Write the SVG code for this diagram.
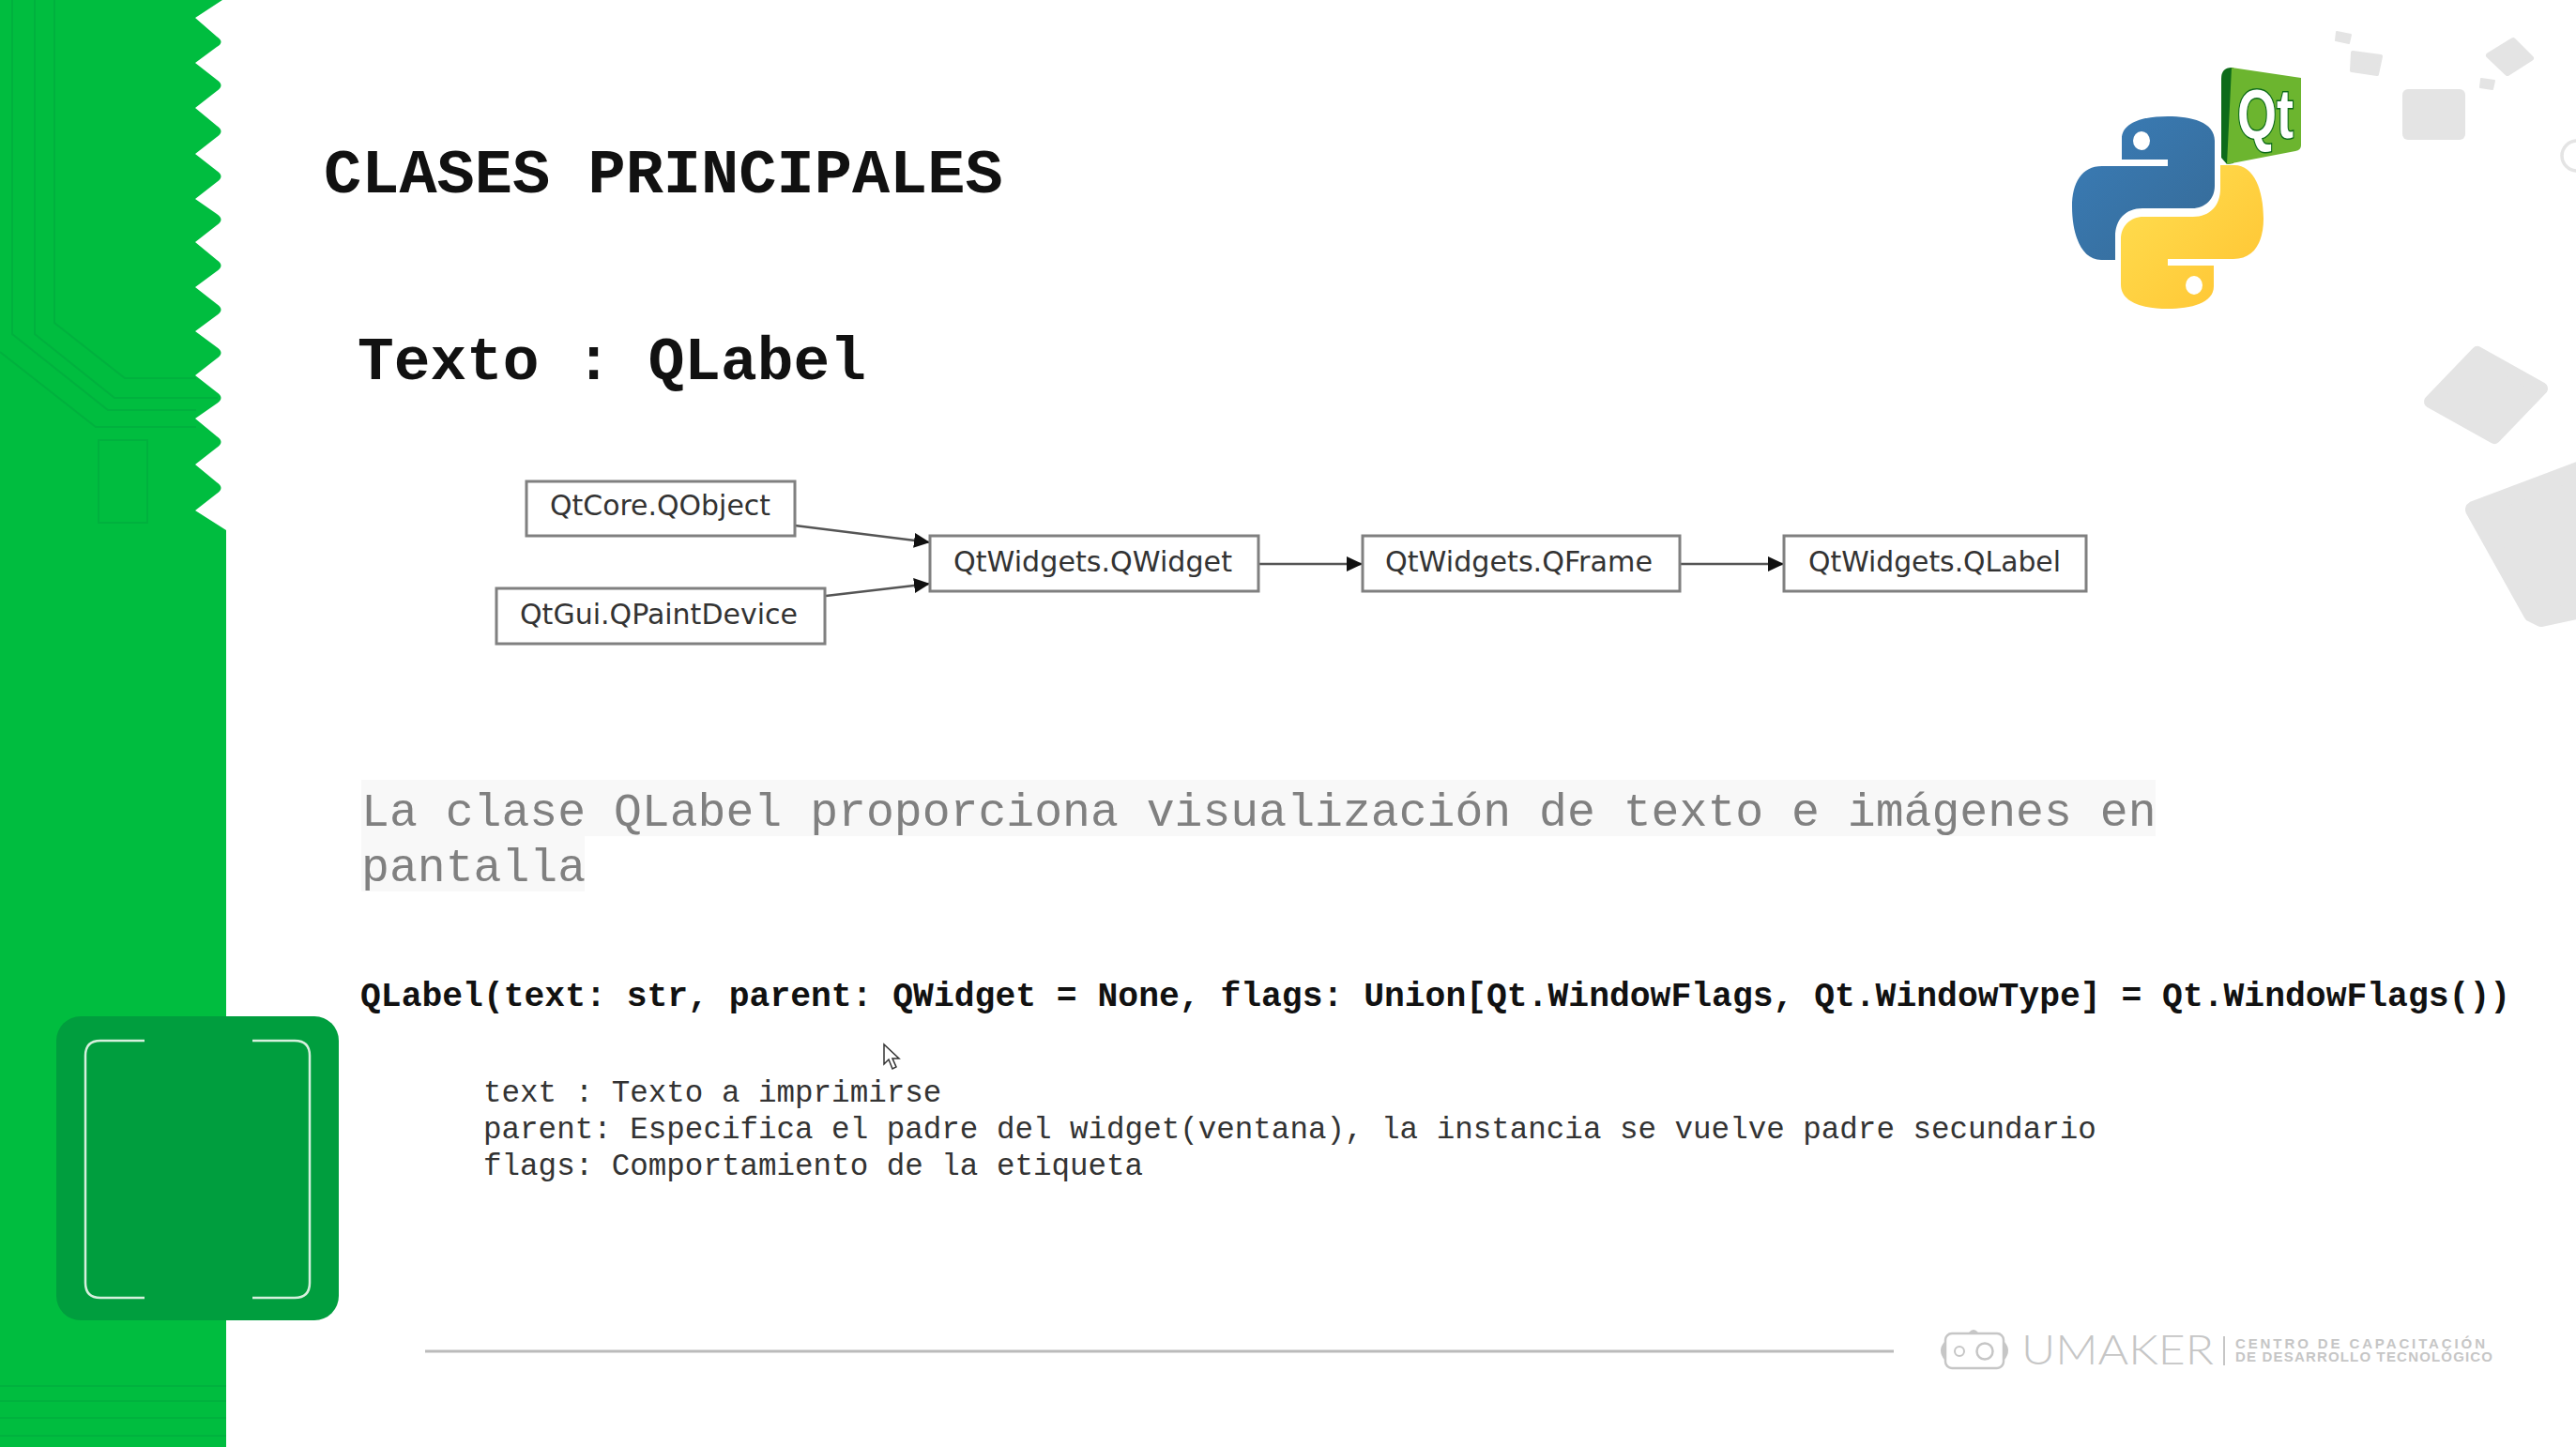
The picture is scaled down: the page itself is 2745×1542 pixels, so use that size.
<svg xmlns="http://www.w3.org/2000/svg" width="2745" height="1542" viewBox="0 0 2745 1542">
<style>
.mono{font-family:"Liberation Mono","DejaVu Sans Mono",monospace}
.b{font-weight:700;fill:#111}
.node rect{fill:#fff;stroke:#808080;stroke-width:3}
.node text{font-family:"DejaVu Sans",sans-serif;font-size:31px;fill:#333}
.edge{stroke:#555;stroke-width:2.5;fill:none;marker-end:url(#arrow)}
.tr{fill:none;stroke:#00b13e;stroke-width:2}
.gr{fill:#e4e4e4;stroke:#e4e4e4;stroke-linejoin:round}
.det{font-size:32.55px;fill:#333}
.umk{fill:#c6c6c6}
</style>
<defs>
<marker id="arrow" markerUnits="userSpaceOnUse" markerWidth="18" markerHeight="16" refX="17" refY="8" orient="auto"><path d="M0 0L17 8L0 16Z" fill="#111"/></marker>
<linearGradient id="bl" x1="0" y1="0" x2="1" y2="1"><stop offset="0" stop-color="#3a7db8"/><stop offset="1" stop-color="#366a96"/></linearGradient>
<linearGradient id="yl" x1="0" y1="0" x2="1" y2="1"><stop offset="0" stop-color="#ffc331"/><stop offset="1" stop-color="#ffe052"/></linearGradient>
</defs>
<rect width="2745" height="1542" fill="#fff"/>

<g id="decor-grey">
<path class="gr" stroke-width="2" d="M2490 34L2505 37L2503 46L2489 43Z"/>
<path class="gr" stroke-width="4" d="M2507 56L2537 60L2533 79L2506 75Z"/>
<path class="gr" stroke-width="6" d="M2652 59L2678 43L2697 62L2672 78Z"/>
<path class="gr" stroke-width="2" d="M2644 84L2658 86L2656 95L2643 93Z"/>
<rect x="2560" y="95" width="67" height="54" rx="6" fill="#e4e4e4"/>
<circle cx="2746" cy="166" r="16" fill="none" stroke="#e4e4e4" stroke-width="3.5"/>
<path class="gr" stroke-width="14" d="M2640 376L2708 414L2658 466L2590 428Z"/>
<path class="gr" stroke-width="18" d="M2636 543L2750 500L2750 650L2708 659L2698 654Z"/>
</g>

<g id="sidebar">
<path fill="#00bd3f" d="M0 0H237L208 19L231 39Q240 45 231 50L208 67L231 85Q240 91 231 97L208 115L231 134Q240 140 231 146L208 164L231 182Q240 188 231 194L208 212L231 228Q240 234 231 240L208 258L231 277Q240 283 231 289L208 306L231 324Q240 330 231 336L208 353L231 370Q240 376 231 382L208 400L231 418Q240 424 231 430L208 446L231 465Q240 471 231 477L208 495L231 514Q240 520 231 526L208 544L241 565V1542H0Z"/>
<path class="tr" d="M13 0V356L115 437H209"/>
<path class="tr" d="M37 0V356L122 424H232"/>
<path class="tr" d="M58 0V344L133 403H209"/>
<path class="tr" d="M0 375L102 455H209"/>
<rect class="tr" x="105" y="469" width="52" height="88"/>
<g stroke="#00b23e" stroke-width="2">
<line x1="0" y1="1477" x2="241" y2="1477"/><line x1="0" y1="1493" x2="241" y2="1493"/><line x1="0" y1="1511" x2="241" y2="1511"/><line x1="0" y1="1530" x2="241" y2="1530"/>
</g>
<rect x="60" y="1083" width="301" height="324" rx="26" fill="#009e3e"/>
<path d="M154 1109H107Q91 1109 91 1125V1367Q91 1383 107 1383H154M269 1109H314Q330 1109 330 1125V1367Q330 1383 314 1383H269" fill="none" stroke="#d5f0dd" stroke-width="2.5"/>
</g>

<text class="mono b" x="345" y="205" font-size="67">CLASES PRINCIPALES</text>
<text class="mono b" x="381" y="404" font-size="64.5">Texto : QLabel</text>

<g id="logo-python">
<path fill="url(#bl)" d="M2310 124C2335 124 2360 130 2360 150V198C2360 212 2350 222 2336 222H2283C2265 222 2254 234 2254 252V277H2239C2218 277 2208 250 2208 220C2208 195 2218 177 2240 177H2310V170H2261V148C2261 130 2285 124 2310 124Z"/>
<ellipse cx="2282" cy="150" rx="9" ry="10" fill="#fff"/>
<path fill="url(#yl)" transform="rotate(180 2310 226.5)" d="M2310 124C2335 124 2360 130 2360 150V198C2360 212 2350 222 2336 222H2283C2265 222 2254 234 2254 252V277H2239C2218 277 2208 250 2208 220C2208 195 2218 177 2240 177H2310V170H2261V148C2261 130 2285 124 2310 124Z"/>
<ellipse cx="2338" cy="304" rx="9" ry="10" fill="#fff"/>
</g>
<g id="logo-qt">
<path fill="#0d6b1a" d="M2378 72Q2367 72 2367 84V168L2373 175L2380 174V72Z"/>
<path fill="#6cb52f" d="M2378 72L2452 83V155Q2452 160 2446 161L2373 175Z"/>
<text x="2384" y="147" font-family="Liberation Sans,sans-serif" font-weight="700" font-size="74" fill="#fff" stroke="#0d6b1a" stroke-width="3" paint-order="stroke" textLength="60" lengthAdjust="spacingAndGlyphs">Qt</text>
</g>

<g id="connectors">
<line class="edge" x1="847" y1="560" x2="991" y2="578"/>
<line class="edge" x1="880" y1="635" x2="991" y2="622"/>
<line class="edge" x1="1341" y1="601" x2="1452" y2="601"/>
<line class="edge" x1="1790" y1="601" x2="1901" y2="601"/>
</g>
<g id="n-qobject" class="node"><rect x="561" y="513" width="286" height="58"/><text x="586" y="549" textLength="235" lengthAdjust="spacingAndGlyphs">QtCore.QObject</text></g>
<g id="n-qpaintdevice" class="node"><rect x="529" y="627" width="350" height="59"/><text x="554" y="665" textLength="296" lengthAdjust="spacingAndGlyphs">QtGui.QPaintDevice</text></g>
<g id="n-qwidget" class="node"><rect x="991" y="571" width="350" height="59"/><text x="1016" y="609" textLength="297" lengthAdjust="spacingAndGlyphs">QtWidgets.QWidget</text></g>
<g id="n-qframe" class="node"><rect x="1452" y="571" width="338" height="59"/><text x="1476" y="609" textLength="285" lengthAdjust="spacingAndGlyphs">QtWidgets.QFrame</text></g>
<g id="n-qlabel" class="node"><rect x="1901" y="571" width="322" height="59"/><text x="1927" y="609" textLength="269" lengthAdjust="spacingAndGlyphs">QtWidgets.QLabel</text></g>

<rect x="385" y="831" width="1912" height="60" fill="#f8f8f8"/>
<rect x="385" y="891" width="238" height="59" fill="#f8f8f8"/>
<g class="mono" font-size="49.8" fill="#808080">
<text x="385" y="880">La clase QLabel proporciona visualización de texto e imágenes en</text>
<text x="385" y="939">pantalla</text>
</g>
<text class="mono b" x="384" y="1072" font-size="36.37">QLabel(text: str, parent: QWidget = None, flags: Union[Qt.WindowFlags, Qt.WindowType] = Qt.WindowFlags())</text>
<g class="mono det">
<text x="515" y="1174">text : Texto a imprimirse</text>
<text x="515" y="1213">parent: Especifica el padre del widget(ventana), la instancia se vuelve padre secundario</text>
<text x="515" y="1252">flags: Comportamiento de la etiqueta</text>
</g>
<path id="cursor" d="M942 1113V1134L947 1129L951 1139L955 1137L951 1128L958 1128Z" fill="#fff" stroke="#333" stroke-width="1.5"/>

<line x1="453" y1="1440" x2="2018" y2="1440" stroke="#bbb" stroke-width="3"/>
<g id="logo-umaker">
<rect x="2073" y="1421" width="62" height="37" rx="7" fill="none" stroke="#c6c6c6" stroke-width="2.5"/>
<path class="umk" d="M2072 1430Q2064 1439 2072 1449ZM2136 1430Q2144 1439 2136 1449ZM2098 1420Q2103 1414 2108 1420Z"/>
<circle cx="2088" cy="1440" r="5" fill="none" stroke="#c6c6c6" stroke-width="2"/>
<circle cx="2115" cy="1440" r="8.5" fill="none" stroke="#c6c6c6" stroke-width="2.5"/>
<text class="umk" x="2154" y="1454" font-family="Lato,Open Sans,sans-serif" font-weight="300" font-size="44" textLength="205" lengthAdjust="spacingAndGlyphs">UMAKER</text>
<rect class="umk" x="2369" y="1424" width="2" height="31"/>
<text class="umk" x="2382" y="1437" font-family="Liberation Sans,sans-serif" font-weight="700" font-size="15" textLength="266">CENTRO DE CAPACITACIÓN</text>
<text class="umk" x="2382" y="1451" font-family="Liberation Sans,sans-serif" font-weight="700" font-size="15" textLength="274">DE DESARROLLO TECNOLÓGICO</text>
</g>
</svg>
